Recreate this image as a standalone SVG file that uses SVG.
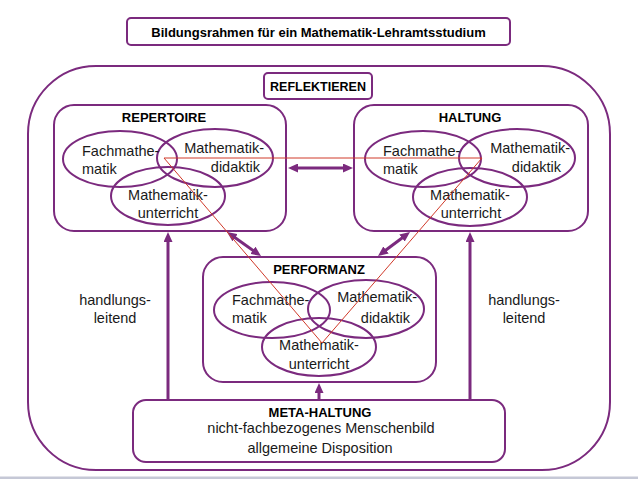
<svg xmlns="http://www.w3.org/2000/svg" width="638" height="479" viewBox="0 0 638 479">
<defs>
<style>
.box{fill:none;stroke:#7b2a7e;stroke-width:2}
.ell{fill:none;stroke:#7b2a7e;stroke-width:2}
.t{font-family:"Liberation Sans",Arial,sans-serif;font-size:14.5px;fill:#1a1a1a}
.b{font-family:"Liberation Sans",Arial,sans-serif;font-weight:bold;font-size:13px;fill:#000}
.arr{stroke:#7b2a7e;stroke-width:3;fill:none}
.red{stroke:#d03a2a;stroke-width:1;fill:none}
</style>
<marker id="ah" viewBox="0 0 10 9" refX="3" refY="4.5" markerWidth="10" markerHeight="9" markerUnits="userSpaceOnUse" orient="auto-start-reverse">
<path d="M0,0 L10,4.5 L0,9 z" fill="#7b2a7e"/>
</marker>
</defs>
<rect x="0" y="0" width="638" height="479" fill="#fff"/>
<rect x="0" y="476.5" width="638" height="2.5" fill="#c5c8d6"/>

<g id="outer"><rect class="box" x="28" y="66" width="582" height="404" rx="68"/></g>

<g id="title">
<rect class="box" x="127" y="18" width="383" height="27" rx="4"/>
<text class="b" x="318.5" y="37" text-anchor="middle">Bildungsrahmen für ein Mathematik-Lehramtsstudium</text>
</g>

<g id="reflektieren">
<rect class="box" x="264" y="73" width="108" height="26" rx="4"/>
<text class="b" x="318" y="91" text-anchor="middle" style="font-size:12.5px">REFLEKTIEREN</text>
</g>

<g id="repertoire">
<rect class="box" x="54" y="105" width="232" height="126" rx="20"/>
<text class="b" x="164" y="122" text-anchor="middle">REPERTOIRE</text>
<ellipse class="ell" cx="120" cy="159" rx="57" ry="28"/>
<ellipse class="ell" cx="215" cy="158" rx="58" ry="29"/>
<ellipse class="ell" cx="168" cy="196" rx="57" ry="29"/>
<text class="t" x="82" y="156">Fachmathe-</text>
<text class="t" x="82" y="174">matik</text>
<text class="t" x="264" y="153" text-anchor="end">Mathematik-</text>
<text class="t" x="260" y="172" text-anchor="end">didaktik</text>
<text class="t" x="168" y="200" text-anchor="middle">Mathematik-</text>
<text class="t" x="168" y="218" text-anchor="middle">unterricht</text>
</g>

<g id="haltung">
<rect class="box" x="354" y="105" width="234" height="126" rx="20"/>
<text class="b" x="470" y="122" text-anchor="middle">HALTUNG</text>
<ellipse class="ell" cx="423" cy="159" rx="58" ry="28"/>
<ellipse class="ell" cx="517" cy="158" rx="58" ry="29"/>
<ellipse class="ell" cx="470" cy="197" rx="57" ry="29"/>
<text class="t" x="383" y="156">Fachmathe-</text>
<text class="t" x="383" y="174">matik</text>
<text class="t" x="570" y="153" text-anchor="end">Mathematik-</text>
<text class="t" x="561" y="172" text-anchor="end">didaktik</text>
<text class="t" x="470" y="200" text-anchor="middle">Mathematik-</text>
<text class="t" x="471" y="218" text-anchor="middle">unterricht</text>
</g>

<g id="performanz">
<rect class="box" x="203" y="257" width="233" height="125" rx="20"/>
<text class="b" x="319" y="274" text-anchor="middle">PERFORMANZ</text>
<ellipse class="ell" cx="272" cy="310" rx="58" ry="28"/>
<ellipse class="ell" cx="366" cy="309" rx="58" ry="29"/>
<ellipse class="ell" cx="319" cy="347" rx="57" ry="29"/>
<text class="t" x="232" y="305">Fachmathe-</text>
<text class="t" x="232" y="323">matik</text>
<text class="t" x="417" y="302" text-anchor="end">Mathematik-</text>
<text class="t" x="410" y="323" text-anchor="end">didaktik</text>
<text class="t" x="319" y="350" text-anchor="middle">Mathematik-</text>
<text class="t" x="319" y="369" text-anchor="middle">unterricht</text>
</g>

<g id="meta-haltung">
<rect class="box" x="133" y="400" width="372" height="62" rx="13"/>
<text class="b" x="320" y="417" text-anchor="middle">META-HALTUNG</text>
<text class="t" x="321" y="433" text-anchor="middle">nicht-fachbezogenes Menschenbild</text>
<text class="t" x="320" y="453" text-anchor="middle">allgemeine Disposition</text>
</g>

<g id="label-left">
<text class="t" x="115" y="305" text-anchor="middle">handlungs-</text>
<text class="t" x="115" y="323" text-anchor="middle">leitend</text>
</g>
<g id="label-right">
<text class="t" x="524" y="305" text-anchor="middle">handlungs-</text>
<text class="t" x="524" y="323" text-anchor="middle">leitend</text>
</g>

<g id="connectors">
<line class="arr" x1="295" y1="168" x2="346" y2="168" marker-start="url(#ah)" marker-end="url(#ah)"/>
<line class="arr" x1="232.7" y1="236" x2="255.3" y2="252" marker-start="url(#ah)" marker-end="url(#ah)"/>
<line class="arr" x1="404.4" y1="236.2" x2="383.6" y2="251.8" marker-start="url(#ah)" marker-end="url(#ah)"/>
<line class="arr" x1="168" y1="400" x2="168" y2="239" marker-end="url(#ah)"/>
<line class="arr" x1="470" y1="400" x2="470" y2="239" marker-end="url(#ah)"/>
<line class="arr" x1="319" y1="400" x2="319" y2="390" marker-end="url(#ah)"/>
<polygon class="red" points="164,158 482,158 322,343"/>
</g>
</svg>
